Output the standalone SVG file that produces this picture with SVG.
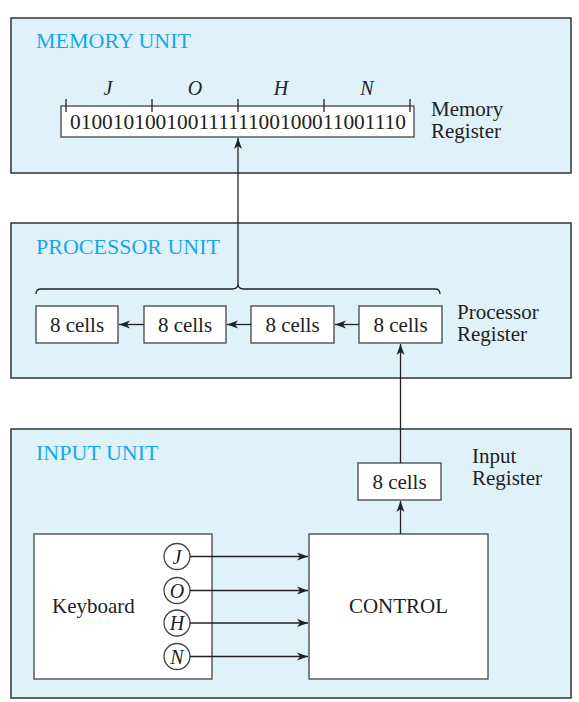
<svg xmlns="http://www.w3.org/2000/svg" width="579" height="702" viewBox="0 0 579 702">
<defs>
<marker id="arr" markerUnits="userSpaceOnUse" markerWidth="12" markerHeight="10" refX="11" refY="5" orient="auto">
<path d="M0,1 L11,5 L0,9 L3,5 z" fill="#222"/>
</marker>
<style>
.panel{fill:#dff2fa;stroke:#333;stroke-width:1.5}
.box{fill:#fff;stroke:#444;stroke-width:1.3}
.title{font-family:"Liberation Serif",serif;font-size:22px;fill:#1aa6e6}
.t{font-family:"Liberation Serif",serif;font-size:21px;fill:#222}
.it{font-family:"Liberation Serif",serif;font-size:20px;font-style:italic;fill:#222}
.ln{stroke:#222;stroke-width:1.3;fill:none}
</style>
</defs>
<rect width="579" height="702" fill="#fff"/>

<g id="memory-unit">
<rect class="panel" x="11" y="18" width="560" height="155"/>
<text class="title" x="36" y="48">MEMORY UNIT</text>
<rect class="box" x="61" y="106" width="353" height="31"/>
<g class="ln">
<line x1="66" y1="99" x2="66" y2="112"/>
<line x1="152" y1="99" x2="152" y2="112"/>
<line x1="238" y1="99" x2="238" y2="112"/>
<line x1="324" y1="99" x2="324" y2="112"/>
<line x1="410" y1="99" x2="410" y2="112"/>
</g>
<text class="it" x="108" y="95" text-anchor="middle">J</text>
<text class="it" x="195" y="95" text-anchor="middle">O</text>
<text class="it" x="281" y="95" text-anchor="middle">H</text>
<text class="it" x="367" y="95" text-anchor="middle">N</text>
<text class="t" x="70" y="129" textLength="336" lengthAdjust="spacingAndGlyphs">01001010010011111100100011001110</text>
<text class="t" x="431" y="116">Memory</text>
<text class="t" x="431" y="138">Register</text>
</g>

<g id="processor-unit">
<rect class="panel" x="11" y="223" width="560" height="155"/>
<text class="title" x="36" y="254">PROCESSOR UNIT</text>
<path class="ln" d="M36,294 Q36,289 41,289 L232,289 Q238,289 238,284 Q238,289 244,289 L435,289 Q440,289 440,294"/>
<rect class="box" x="36" y="306" width="82" height="37"/>
<text class="t" x="77" y="332" text-anchor="middle">8 cells</text>
<rect class="box" x="144" y="306" width="82" height="37"/>
<text class="t" x="185" y="332" text-anchor="middle">8 cells</text>
<rect class="box" x="251" y="306" width="83" height="37"/>
<text class="t" x="292.5" y="332" text-anchor="middle">8 cells</text>
<rect class="box" x="359" y="306" width="83" height="37"/>
<text class="t" x="400.5" y="332" text-anchor="middle">8 cells</text>
<text class="t" x="457" y="319">Processor</text>
<text class="t" x="457" y="341">Register</text>
</g>

<g id="input-unit">
<rect class="panel" x="11" y="429" width="560" height="269"/>
<text class="title" x="36" y="460">INPUT UNIT</text>
<rect class="box" x="358" y="463" width="83" height="37"/>
<text class="t" x="399.5" y="489" text-anchor="middle">8 cells</text>
<text class="t" x="472" y="463">Input</text>
<text class="t" x="472" y="485">Register</text>
</g>

<g id="keyboard">
<rect class="box" x="34" y="534" width="178" height="145"/>
<text class="t" x="52" y="613">Keyboard</text>
<circle class="box" cx="177" cy="556.5" r="13"/>
<text class="it" x="177" y="563.5" text-anchor="middle">J</text>
<circle class="box" cx="177" cy="590.5" r="13"/>
<text class="it" x="177" y="597.5" text-anchor="middle">O</text>
<circle class="box" cx="177" cy="623" r="13"/>
<text class="it" x="177" y="630" text-anchor="middle">H</text>
<circle class="box" cx="177" cy="656.5" r="13"/>
<text class="it" x="177" y="663.5" text-anchor="middle">N</text>
</g>

<g id="control">
<rect class="box" x="309" y="534" width="179" height="145"/>
<text class="t" x="398.5" y="613" text-anchor="middle">CONTROL</text>
</g>

<g id="connectors" class="ln">
<line x1="238" y1="284" x2="238" y2="138" marker-end="url(#arr)"/>
<line x1="359" y1="324.5" x2="335" y2="324.5" marker-end="url(#arr)"/>
<line x1="251" y1="324.5" x2="227" y2="324.5" marker-end="url(#arr)"/>
<line x1="144" y1="324.5" x2="119" y2="324.5" marker-end="url(#arr)"/>
<line x1="400.5" y1="463" x2="400.5" y2="344" marker-end="url(#arr)"/>
<line x1="400.5" y1="534" x2="400.5" y2="501" marker-end="url(#arr)"/>
<line x1="190" y1="556.5" x2="308" y2="556.5" marker-end="url(#arr)"/>
<line x1="190" y1="590.5" x2="308" y2="590.5" marker-end="url(#arr)"/>
<line x1="190" y1="623" x2="308" y2="623" marker-end="url(#arr)"/>
<line x1="190" y1="656.5" x2="308" y2="656.5" marker-end="url(#arr)"/>
</g>
</svg>
